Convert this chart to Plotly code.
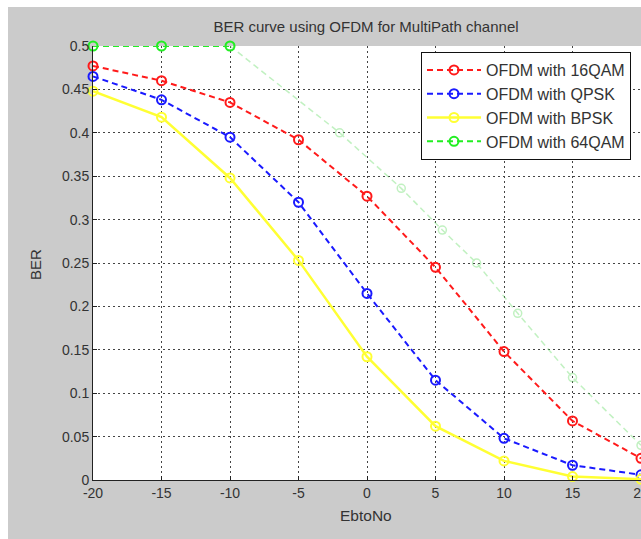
import plotly.graph_objects as go

# ---- data ----
ebno = [-20, -15, -10, -5, 0, 5, 10, 15, 20]
ber_16qam = [0.477, 0.460, 0.435, 0.392, 0.327, 0.245, 0.148, 0.068, 0.025]
ber_qpsk = [0.465, 0.438, 0.395, 0.320, 0.215, 0.115, 0.048, 0.017, 0.006]
ber_bpsk = [0.448, 0.418, 0.348, 0.253, 0.142, 0.062, 0.022, 0.004, 0.001]
ebno_64qam = [-20, -15, -10, -2, 2.5, 5.5, 8, 11, 15, 20]
ber_64qam = [0.500, 0.500, 0.500, 0.400, 0.336, 0.288, 0.250, 0.192, 0.118, 0.040]

x_ticks = [-20, -15, -10, -5, 0, 5, 10, 15, 20]
y_ticks = [0, 0.05, 0.1, 0.15, 0.2, 0.25, 0.3, 0.35, 0.4, 0.45, 0.5]
y_tick_labels = ["0", "0.05", "0.1", "0.15", "0.2", "0.25", "0.3",
                 "0.35", "0.4", "0.45", "0.5"]

title_text = "BER curve using OFDM for MultiPath channel"
x_title = "EbtoNo"
y_title = "BER"

FONT = "Liberation Sans, Arial, sans-serif"
W, H = 641, 539
ML, MT, MB, MR = 93, 46, 59, 0
pw = W - ML - MR
ph = H - MT - MB


def px_x(px):
    return (px - ML) / pw


def px_y(py):
    return (H - MB - py) / ph


fig = go.Figure()

mk = dict(symbol="circle-open", size=9, line=dict(width=2))

fig.add_trace(go.Scatter(
    x=ebno, y=ber_16qam, mode="lines+markers", name="OFDM with 16QAM",
    line=dict(color="#ff1a1a", width=2, dash="6px,4px"),
    marker=dict(color="#ff1a1a", **mk), cliponaxis=False))
fig.add_trace(go.Scatter(
    x=ebno, y=ber_qpsk, mode="lines+markers", name="OFDM with QPSK",
    line=dict(color="#1a1aff", width=2, dash="6px,4px"),
    marker=dict(color="#1a1aff", **mk), cliponaxis=False))
fig.add_trace(go.Scatter(
    x=ebno, y=ber_bpsk, mode="lines+markers", name="OFDM with BPSK",
    line=dict(color="#ffff33", width=2.5),
    marker=dict(color="#ffff33", **mk), cliponaxis=False))
# faded continuation of the 64QAM curve
fig.add_trace(go.Scatter(
    x=ebno_64qam[2:], y=ber_64qam[2:], mode="lines+markers", showlegend=False,
    line=dict(color="#66dd66", width=1.5, dash="6px,4px"),
    marker=dict(color="#66dd66", symbol="circle-open", size=8, line=dict(width=1.5)),
    opacity=0.4, cliponaxis=False))
fig.add_trace(go.Scatter(
    x=ebno_64qam[:3], y=ber_64qam[:3], mode="lines+markers", name="OFDM with 64QAM",
    line=dict(color="#22ee22", width=2, dash="6px,4px"),
    marker=dict(color="#22ee22", **mk), cliponaxis=False))

axis_common = dict(
    showgrid=True, gridcolor="#444444", gridwidth=1, griddash="2px,3px",
    zeroline=False, showline=True, linecolor="#222222", linewidth=1,
    ticks="inside", ticklen=4, tickcolor="#222222",
    tickfont=dict(family=FONT, size=14, color="#333333"),
    ticklabeloverflow="allow", automargin=False,
)

fig.update_xaxes(range=[-20, 20], tickvals=x_ticks,
                 ticktext=[str(v) for v in x_ticks], **axis_common)
fig.update_yaxes(range=[0, 0.5], tickvals=y_ticks,
                 ticktext=y_tick_labels, **axis_common)

fig.update_layout(
    width=W, height=H,
    margin=dict(l=ML, r=MR, t=MT, b=MB, pad=0, autoexpand=False),
    paper_bgcolor="#cbcbcb", plot_bgcolor="white",
    font=dict(family=FONT, color="#333333"),
    title=dict(text=title_text, x=px_x(366), xref="paper", xanchor="center",
               y=1 - 27 / H, yref="container", yanchor="middle",
               font=dict(family=FONT, size=15, color="#333333")),
    legend=dict(x=px_x(421), y=px_y(52), xanchor="left", yanchor="top",
                bgcolor="white", bordercolor="#111111", borderwidth=1,
                font=dict(family=FONT, size=16, color="#333333"),
                itemwidth=54, tracegroupgap=0),
    showlegend=True,
)

fig.add_annotation(text=x_title, x=px_x(366), y=px_y(515), xref="paper", yref="paper",
                   showarrow=False, font=dict(family=FONT, size=15.5, color="#333333"),
                   xanchor="center", yanchor="middle")
fig.add_annotation(text=y_title, x=px_x(35), y=px_y(265), xref="paper", yref="paper",
                   showarrow=False, textangle=-90,
                   font=dict(family=FONT, size=15, color="#333333"),
                   xanchor="center", yanchor="middle")

# white border strips of the screenshot (top and left)
fig.add_shape(type="rect", xref="paper", yref="paper",
              x0=px_x(0), x1=px_x(W + 5), y0=px_y(7), y1=px_y(-5),
              fillcolor="white", line=dict(width=0), layer="below")
fig.add_shape(type="rect", xref="paper", yref="paper",
              x0=px_x(-5), x1=px_x(8), y0=px_y(H + 5), y1=px_y(-5),
              fillcolor="white", line=dict(width=0), layer="below")

fig.write_html("out.html")
